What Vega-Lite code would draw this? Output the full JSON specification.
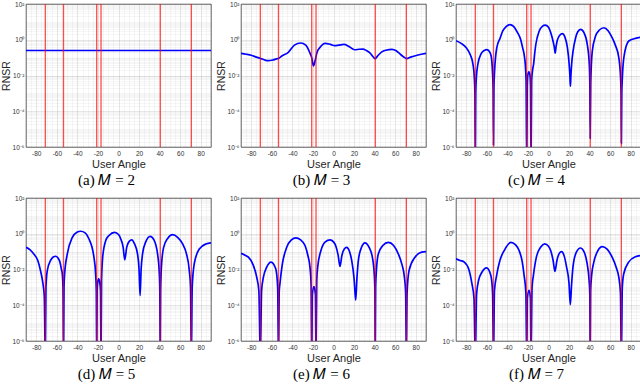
{
"$schema":"https://vega.github.io/schema/vega-lite/v6.json",
"background":"white",
"padding":{"left":1,"top":0,"right":0,"bottom":0},
"datasets":{
"users":[{"a":-71.2},{"a":-53.5},{"a":-21.2},{"a":-17},{"a":40.6},{"a":70.9}],
"curves":[
{"M":2,"a":-90,"r":0.25},{"M":2,"a":90,"r":0.25},
{"M":3,"a":-90,"r":0.174},{"M":3,"a":-85,"r":0.155},{"M":3,"a":-80,"r":0.135},{"M":3,"a":-75,"r":0.107},{"M":3,"a":-71.2,"r":0.091},{"M":3,"a":-67,"r":0.074},{"M":3,"a":-63.7,"r":0.068},{"M":3,"a":-59,"r":0.074},{"M":3,"a":-55.5,"r":0.085},{"M":3,"a":-53.5,"r":0.091},{"M":3,"a":-50,"r":0.126},{"M":3,"a":-44.3,"r":0.19},{"M":3,"a":-38,"r":0.5},{"M":3,"a":-31.9,"r":0.66},{"M":3,"a":-27,"r":0.5},{"M":3,"a":-23.2,"r":0.2},{"M":3,"a":-21.2,"r":0.1},{"M":3,"a":-19.5,"r":0.035},{"M":3,"a":-18,"r":0.063},{"M":3,"a":-16,"r":0.2},{"M":3,"a":-13.4,"r":0.36},{"M":3,"a":-8,"r":0.63},{"M":3,"a":-3,"r":0.55},{"M":3,"a":1.2,"r":0.47},{"M":3,"a":5,"r":0.5},{"M":3,"a":10.2,"r":0.55},{"M":3,"a":15,"r":0.42},{"M":3,"a":20.6,"r":0.275},{"M":3,"a":25,"r":0.295},{"M":3,"a":28.7,"r":0.3},{"M":3,"a":32,"r":0.25},{"M":3,"a":35.2,"r":0.19},{"M":3,"a":38.5,"r":0.112},{"M":3,"a":40.6,"r":0.087},{"M":3,"a":43,"r":0.126},{"M":3,"a":47,"r":0.21},{"M":3,"a":51,"r":0.26},{"M":3,"a":56.9,"r":0.29},{"M":3,"a":61,"r":0.24},{"M":3,"a":64.4,"r":0.166},{"M":3,"a":68,"r":0.112},{"M":3,"a":71.2,"r":0.087},{"M":3,"a":75,"r":0.107},{"M":3,"a":82.2,"r":0.141},{"M":3,"a":90,"r":0.174},
{"M":4,"a":-90,"r":0.89},{"M":4,"a":-85,"r":0.63},{"M":4,"a":-80,"r":0.36},{"M":4,"a":-76,"r":0.14},{"M":4,"a":-73.5,"r":0.043},{"M":4,"a":-72.2,"r":0.0079},{"M":4,"a":-71.6,"r":0.001},{"M":4,"a":-71.2,"r":1e-7},{"M":4,"a":-70.8,"r":0.001},{"M":4,"a":-70.2,"r":0.0079},{"M":4,"a":-68.7,"r":0.043},{"M":4,"a":-65.5,"r":0.166},{"M":4,"a":-62.5,"r":0.25},{"M":4,"a":-60,"r":0.28},{"M":4,"a":-57.5,"r":0.22},{"M":4,"a":-55.8,"r":0.123},{"M":4,"a":-54.5,"r":0.016},{"M":4,"a":-53.9,"r":0.002},{"M":4,"a":-53.5,"r":1.3e-6},{"M":4,"a":-53.1,"r":0.002},{"M":4,"a":-52.5,"r":0.016},{"M":4,"a":-50.3,"r":0.36},{"M":4,"a":-47,"r":1.26},{"M":4,"a":-44.5,"r":3.1},{"M":4,"a":-41,"r":5.6},{"M":4,"a":-37.5,"r":7.1},{"M":4,"a":-34,"r":5.6},{"M":4,"a":-30,"r":2.45},{"M":4,"a":-27,"r":1},{"M":4,"a":-25.2,"r":0.36},{"M":4,"a":-23.5,"r":0.126},{"M":4,"a":-22.6,"r":0.043},{"M":4,"a":-21.8,"r":0.005},{"M":4,"a":-21.2,"r":1e-7},{"M":4,"a":-20.7,"r":0.0025},{"M":4,"a":-20.2,"r":0.01},{"M":4,"a":-19.1,"r":0.016},{"M":4,"a":-18,"r":0.01},{"M":4,"a":-17.5,"r":0.0025},{"M":4,"a":-17,"r":1e-7},{"M":4,"a":-16.4,"r":0.005},{"M":4,"a":-15.5,"r":0.02},{"M":4,"a":-14.5,"r":0.043},{"M":4,"a":-13.3,"r":0.2},{"M":4,"a":-12.3,"r":0.56},{"M":4,"a":-9,"r":3.1},{"M":4,"a":-6,"r":5.6},{"M":4,"a":-3.2,"r":6.5},{"M":4,"a":0,"r":5},{"M":4,"a":2.2,"r":2.45},{"M":4,"a":4.5,"r":0.8},{"M":4,"a":5.6,"r":0.4},{"M":4,"a":6.5,"r":0.18},{"M":4,"a":7.4,"r":0.42},{"M":4,"a":8.5,"r":0.9},{"M":4,"a":11,"r":1.8},{"M":4,"a":13.5,"r":2.2},{"M":4,"a":16,"r":1.4},{"M":4,"a":18.4,"r":0.36},{"M":4,"a":20,"r":0.05},{"M":4,"a":20.8,"r":0.01},{"M":4,"a":21.3,"r":0.0025},{"M":4,"a":21.8,"r":0.01},{"M":4,"a":22.6,"r":0.05},{"M":4,"a":23.9,"r":0.23},{"M":4,"a":26.4,"r":1.3},{"M":4,"a":28.5,"r":2.8},{"M":4,"a":31.3,"r":3.8},{"M":4,"a":34.5,"r":2.5},{"M":4,"a":37.7,"r":0.56},{"M":4,"a":39.7,"r":0.043},{"M":4,"a":40.2,"r":0.004},{"M":4,"a":40.6,"r":3e-6},{"M":4,"a":41.1,"r":0.004},{"M":4,"a":42.6,"r":0.23},{"M":4,"a":45.8,"r":1.6},{"M":4,"a":49.5,"r":3.5},{"M":4,"a":53.9,"r":4.7},{"M":4,"a":58,"r":3.2},{"M":4,"a":61.9,"r":1.3},{"M":4,"a":65,"r":0.5},{"M":4,"a":68.4,"r":0.1},{"M":4,"a":70.2,"r":0.0063},{"M":4,"a":70.6,"r":0.001},{"M":4,"a":70.9,"r":1.6e-6},{"M":4,"a":71.3,"r":0.001},{"M":4,"a":71.8,"r":0.0063},{"M":4,"a":73.3,"r":0.1},{"M":4,"a":78.1,"r":0.85},{"M":4,"a":84.5,"r":1.2},{"M":4,"a":90,"r":1.4},
{"M":5,"a":-90,"r":0.174},{"M":5,"a":-86,"r":0.126},{"M":5,"a":-82.4,"r":0.074},{"M":5,"a":-78.5,"r":0.032},{"M":5,"a":-75.9,"r":0.0087},{"M":5,"a":-73.5,"r":0.0016},{"M":5,"a":-72.2,"r":0.00032},{"M":5,"a":-71.2,"r":1e-7},{"M":5,"a":-70.6,"r":0.001},{"M":5,"a":-69.3,"r":0.0087},{"M":5,"a":-66.1,"r":0.032},{"M":5,"a":-63.5,"r":0.05},{"M":5,"a":-61.2,"r":0.055},{"M":5,"a":-59,"r":0.045},{"M":5,"a":-57,"r":0.026},{"M":5,"a":-55.5,"r":0.01},{"M":5,"a":-54.7,"r":0.0058},{"M":5,"a":-54,"r":0.001},{"M":5,"a":-53.5,"r":1e-7},{"M":5,"a":-53,"r":0.001},{"M":5,"a":-52.4,"r":0.0058},{"M":5,"a":-49.8,"r":0.074},{"M":5,"a":-44.9,"r":0.63},{"M":5,"a":-40.5,"r":1.2},{"M":5,"a":-36.8,"r":1.38},{"M":5,"a":-32.5,"r":1.12},{"M":5,"a":-28.7,"r":0.51},{"M":5,"a":-25.8,"r":0.18},{"M":5,"a":-23.9,"r":0.049},{"M":5,"a":-22.3,"r":0.0063},{"M":5,"a":-21.6,"r":0.00063},{"M":5,"a":-21.2,"r":1e-7},{"M":5,"a":-20.8,"r":0.00063},{"M":5,"a":-20.2,"r":0.002},{"M":5,"a":-19.3,"r":0.003},{"M":5,"a":-18.3,"r":0.002},{"M":5,"a":-17.5,"r":0.00063},{"M":5,"a":-17,"r":1e-7},{"M":5,"a":-16.5,"r":0.0025},{"M":5,"a":-15.4,"r":0.049},{"M":5,"a":-12.4,"r":0.42},{"M":5,"a":-9.2,"r":0.8},{"M":5,"a":-3.7,"r":1.2},{"M":5,"a":0,"r":0.9},{"M":5,"a":2.2,"r":0.51},{"M":5,"a":4.5,"r":0.18},{"M":5,"a":6.1,"r":0.035},{"M":5,"a":8,"r":0.18},{"M":5,"a":10.5,"r":0.38},{"M":5,"a":12.9,"r":0.46},{"M":5,"a":15.5,"r":0.28},{"M":5,"a":18.5,"r":0.074},{"M":5,"a":20,"r":0.01},{"M":5,"a":21,"r":0.00035},{"M":5,"a":22,"r":0.01},{"M":5,"a":23.4,"r":0.074},{"M":5,"a":26.5,"r":0.35},{"M":5,"a":30.8,"r":0.72},{"M":5,"a":34.5,"r":0.45},{"M":5,"a":38,"r":0.074},{"M":5,"a":39.7,"r":0.0063},{"M":5,"a":40.2,"r":0.00063},{"M":5,"a":40.6,"r":1e-7},{"M":5,"a":41,"r":0.00063},{"M":5,"a":41.8,"r":0.016},{"M":5,"a":43.9,"r":0.174},{"M":5,"a":48,"r":0.56},{"M":5,"a":52.6,"r":0.89},{"M":5,"a":57.5,"r":0.63},{"M":5,"a":62.4,"r":0.27},{"M":5,"a":66,"r":0.08},{"M":5,"a":68.9,"r":0.0087},{"M":5,"a":70.1,"r":0.001},{"M":5,"a":70.9,"r":1e-7},{"M":5,"a":71.7,"r":0.001},{"M":5,"a":73.7,"r":0.021},{"M":5,"a":78.6,"r":0.14},{"M":5,"a":85.1,"r":0.27},{"M":5,"a":90,"r":0.31},
{"M":6,"a":-90,"r":0.081},{"M":6,"a":-86,"r":0.063},{"M":6,"a":-82.8,"r":0.049},{"M":6,"a":-78.5,"r":0.02},{"M":6,"a":-74.7,"r":0.0037},{"M":6,"a":-72.6,"r":0.00063},{"M":6,"a":-71.2,"r":1e-7},{"M":6,"a":-70,"r":0.00063},{"M":6,"a":-68.2,"r":0.0037},{"M":6,"a":-65,"r":0.0135},{"M":6,"a":-60.8,"r":0.026},{"M":6,"a":-56.2,"r":0.011},{"M":6,"a":-54.3,"r":0.001},{"M":6,"a":-53.5,"r":1e-7},{"M":6,"a":-52.8,"r":0.00063},{"M":6,"a":-52.1,"r":0.0016},{"M":6,"a":-49.7,"r":0.021},{"M":6,"a":-45.5,"r":0.174},{"M":6,"a":-41,"r":0.45},{"M":6,"a":-36.5,"r":0.59},{"M":6,"a":-32,"r":0.45},{"M":6,"a":-27.7,"r":0.22},{"M":6,"a":-25,"r":0.063},{"M":6,"a":-22.9,"r":0.0135},{"M":6,"a":-21.8,"r":0.0016},{"M":6,"a":-21.2,"r":1e-7},{"M":6,"a":-20.6,"r":0.0004},{"M":6,"a":-19,"r":0.0011},{"M":6,"a":-17.6,"r":0.0004},{"M":6,"a":-17,"r":1e-7},{"M":6,"a":-16.3,"r":0.0025},{"M":6,"a":-15.4,"r":0.0135},{"M":6,"a":-12.2,"r":0.115},{"M":6,"a":-8,"r":0.35},{"M":6,"a":-3.4,"r":0.46},{"M":6,"a":0,"r":0.35},{"M":6,"a":2.1,"r":0.22},{"M":6,"a":4.5,"r":0.063},{"M":6,"a":6.3,"r":0.0148},{"M":6,"a":8.2,"r":0.063},{"M":6,"a":10.5,"r":0.14},{"M":6,"a":12.8,"r":0.174},{"M":6,"a":15.3,"r":0.112},{"M":6,"a":17.7,"r":0.032},{"M":6,"a":20,"r":0.0032},{"M":6,"a":21.6,"r":0.00019},{"M":6,"a":22.8,"r":0.0032},{"M":6,"a":24.2,"r":0.032},{"M":6,"a":27,"r":0.16},{"M":6,"a":30.6,"r":0.31},{"M":6,"a":34.5,"r":0.18},{"M":6,"a":37.8,"r":0.049},{"M":6,"a":39.7,"r":0.005},{"M":6,"a":40.3,"r":0.00063},{"M":6,"a":40.6,"r":1e-7},{"M":6,"a":41,"r":0.001},{"M":6,"a":41.8,"r":0.01},{"M":6,"a":43.6,"r":0.074},{"M":6,"a":48,"r":0.22},{"M":6,"a":53.4,"r":0.33},{"M":6,"a":58.5,"r":0.22},{"M":6,"a":63.1,"r":0.074},{"M":6,"a":66.5,"r":0.02},{"M":6,"a":69,"r":0.0037},{"M":6,"a":70.2,"r":0.0005},{"M":6,"a":70.9,"r":1e-7},{"M":6,"a":71.6,"r":0.0005},{"M":6,"a":73.5,"r":0.0087},{"M":6,"a":79.3,"r":0.049},{"M":6,"a":85.8,"r":0.093},{"M":6,"a":90,"r":0.1},
{"M":7,"a":-90,"r":0.04},{"M":7,"a":-86,"r":0.032},{"M":7,"a":-81.9,"r":0.026},{"M":7,"a":-77.5,"r":0.01},{"M":7,"a":-74.5,"r":0.0016},{"M":7,"a":-72.5,"r":0.00025},{"M":7,"a":-71.2,"r":1e-7},{"M":7,"a":-70,"r":0.0004},{"M":7,"a":-68,"r":0.0025},{"M":7,"a":-64.8,"r":0.007},{"M":7,"a":-60.2,"r":0.0123},{"M":7,"a":-56.1,"r":0.0046},{"M":7,"a":-54.4,"r":0.0005},{"M":7,"a":-53.5,"r":1e-7},{"M":7,"a":-52.6,"r":0.00063},{"M":7,"a":-50.5,"r":0.0046},{"M":7,"a":-47.3,"r":0.032},{"M":7,"a":-43.1,"r":0.115},{"M":7,"a":-36.7,"r":0.33},{"M":7,"a":-32,"r":0.24},{"M":7,"a":-28.6,"r":0.115},{"M":7,"a":-25.8,"r":0.032},{"M":7,"a":-23.7,"r":0.0046},{"M":7,"a":-22,"r":0.0005},{"M":7,"a":-21.2,"r":1e-7},{"M":7,"a":-20.6,"r":0.00025},{"M":7,"a":-18.9,"r":0.00068},{"M":7,"a":-17.6,"r":0.00025},{"M":7,"a":-17,"r":1e-7},{"M":7,"a":-16,"r":0.001},{"M":7,"a":-14.7,"r":0.0046},{"M":7,"a":-11.8,"r":0.049},{"M":7,"a":-7.5,"r":0.18},{"M":7,"a":-3.7,"r":0.27},{"M":7,"a":0,"r":0.2},{"M":7,"a":2.1,"r":0.115},{"M":7,"a":4.5,"r":0.032},{"M":7,"a":6.3,"r":0.0078},{"M":7,"a":8.2,"r":0.032},{"M":7,"a":10.5,"r":0.08},{"M":7,"a":12.7,"r":0.1},{"M":7,"a":15.3,"r":0.056},{"M":7,"a":17.6,"r":0.0135},{"M":7,"a":20,"r":0.0016},{"M":7,"a":21.2,"r":0.000107},{"M":7,"a":22.5,"r":0.0016},{"M":7,"a":23.8,"r":0.0135},{"M":7,"a":27,"r":0.09},{"M":7,"a":31.1,"r":0.16},{"M":7,"a":34.5,"r":0.1},{"M":7,"a":37.6,"r":0.021},{"M":7,"a":39.5,"r":0.0025},{"M":7,"a":40.2,"r":0.0004},{"M":7,"a":40.6,"r":1e-7},{"M":7,"a":41,"r":0.00063},{"M":7,"a":42,"r":0.005},{"M":7,"a":44.1,"r":0.026},{"M":7,"a":48,"r":0.112},{"M":7,"a":52.2,"r":0.19},{"M":7,"a":57,"r":0.14},{"M":7,"a":61.9,"r":0.049},{"M":7,"a":66,"r":0.0126},{"M":7,"a":68.4,"r":0.0037},{"M":7,"a":70,"r":0.0005},{"M":7,"a":70.9,"r":1e-7},{"M":7,"a":71.8,"r":0.001},{"M":7,"a":73.2,"r":0.0058},{"M":7,"a":78,"r":0.026},{"M":7,"a":84.5,"r":0.052},{"M":7,"a":90,"r":0.06}
]},
"vconcat":[
{"hconcat":[
{"width":185,"height":143,"title":{"text":"(a) 𝑀 = 2"},
 "encoding":{"x":{"field":"a","type":"quantitative","scale":{"domain":[-90,90],"nice":false},"title":"User Angle","axis":{"values":[-90,-85,-80,-75,-70,-65,-60,-55,-50,-45,-40,-35,-30,-25,-20,-15,-10,-5,0,5,10,15,20,25,30,35,40,45,50,55,60,65,70,75,80,85,90],"labelExpr":"datum.value % 20 == 0 && abs(datum.value) < 90 ? '' + datum.value : ''","labelOverlap":false,"labelFlush":false,"gridOpacity":{"condition":{"test":"datum.value % 20 == 0","value":0.11},"value":0.04}}}},
 "layer":[
  {"data":{"name":"curves"},"transform":[{"filter":"datum.M == 2"}],"mark":{"type":"line","color":"#0000ff","strokeWidth":1.7,"clip":true,"interpolate":"monotone"},
   "encoding":{"y":{"field":"r","type":"quantitative","scale":{"type":"log","domain":[0.000001,100],"nice":false},"title":"RNSR","axis":{"values":[0.000001,0.000002,0.000003,0.000004,0.000005,0.000006,0.000007,0.000008,0.000009,0.00001,0.00002,0.00003,0.00004,0.00005,0.00006,0.00007,0.00008,0.00009,0.0001,0.0002,0.0003,0.0004,0.0005,0.0006,0.0007,0.0008,0.0009,0.001,0.002,0.003,0.004,0.005,0.006,0.007,0.008,0.009,0.01,0.02,0.03,0.04,0.05,0.06,0.07,0.08,0.09,0.1,0.2,0.3,0.4,0.5,0.6,0.7,0.8,0.9,1,2,3,4,5,6,7,8,9,10,20,30,40,50,60,70,80,90,100],"labelExpr":"datum.value == 100 ? '10²' : datum.value == 1 ? '10⁰' : datum.value == 0.01 ? '10⁻²' : datum.value == 0.0001 ? '10⁻⁴' : datum.value == 0.000001 ? '10⁻⁶' : ''","labelOverlap":false,"labelFlush":false,"gridOpacity":{"condition":{"test":"datum.value == 100 || datum.value == 1 || datum.value == 0.01 || datum.value == 0.0001 || datum.value == 0.000001","value":0.11},"value":0.04}}}}},
  {"data":{"name":"users"},"mark":{"type":"rule","color":"#ff0000","opacity":0.7,"strokeWidth":1.3},"encoding":{}}
 ]},
{"width":185,"height":143,"title":{"text":"(b) 𝑀 = 3"},
 "encoding":{"x":{"field":"a","type":"quantitative","scale":{"domain":[-90,90],"nice":false},"title":"User Angle","axis":{"values":[-90,-85,-80,-75,-70,-65,-60,-55,-50,-45,-40,-35,-30,-25,-20,-15,-10,-5,0,5,10,15,20,25,30,35,40,45,50,55,60,65,70,75,80,85,90],"labelExpr":"datum.value % 20 == 0 && abs(datum.value) < 90 ? '' + datum.value : ''","labelOverlap":false,"labelFlush":false,"gridOpacity":{"condition":{"test":"datum.value % 20 == 0","value":0.11},"value":0.04}}}},
 "layer":[
  {"data":{"name":"curves"},"transform":[{"filter":"datum.M == 3"}],"mark":{"type":"line","color":"#0000ff","strokeWidth":1.7,"clip":true,"interpolate":"monotone"},
   "encoding":{"y":{"field":"r","type":"quantitative","scale":{"type":"log","domain":[0.000001,100],"nice":false},"title":"RNSR","axis":{"values":[0.000001,0.000002,0.000003,0.000004,0.000005,0.000006,0.000007,0.000008,0.000009,0.00001,0.00002,0.00003,0.00004,0.00005,0.00006,0.00007,0.00008,0.00009,0.0001,0.0002,0.0003,0.0004,0.0005,0.0006,0.0007,0.0008,0.0009,0.001,0.002,0.003,0.004,0.005,0.006,0.007,0.008,0.009,0.01,0.02,0.03,0.04,0.05,0.06,0.07,0.08,0.09,0.1,0.2,0.3,0.4,0.5,0.6,0.7,0.8,0.9,1,2,3,4,5,6,7,8,9,10,20,30,40,50,60,70,80,90,100],"labelExpr":"datum.value == 100 ? '10²' : datum.value == 1 ? '10⁰' : datum.value == 0.01 ? '10⁻²' : datum.value == 0.0001 ? '10⁻⁴' : datum.value == 0.000001 ? '10⁻⁶' : ''","labelOverlap":false,"labelFlush":false,"gridOpacity":{"condition":{"test":"datum.value == 100 || datum.value == 1 || datum.value == 0.01 || datum.value == 0.0001 || datum.value == 0.000001","value":0.11},"value":0.04}}}}},
  {"data":{"name":"users"},"mark":{"type":"rule","color":"#ff0000","opacity":0.7,"strokeWidth":1.3},"encoding":{}}
 ]},
{"width":185,"height":143,"title":{"text":"(c) 𝑀 = 4"},
 "encoding":{"x":{"field":"a","type":"quantitative","scale":{"domain":[-90,90],"nice":false},"title":"User Angle","axis":{"values":[-90,-85,-80,-75,-70,-65,-60,-55,-50,-45,-40,-35,-30,-25,-20,-15,-10,-5,0,5,10,15,20,25,30,35,40,45,50,55,60,65,70,75,80,85,90],"labelExpr":"datum.value % 20 == 0 && abs(datum.value) < 90 ? '' + datum.value : ''","labelOverlap":false,"labelFlush":false,"gridOpacity":{"condition":{"test":"datum.value % 20 == 0","value":0.11},"value":0.04}}}},
 "layer":[
  {"data":{"name":"curves"},"transform":[{"filter":"datum.M == 4"}],"mark":{"type":"line","color":"#0000ff","strokeWidth":1.7,"clip":true,"interpolate":"monotone"},
   "encoding":{"y":{"field":"r","type":"quantitative","scale":{"type":"log","domain":[0.000001,100],"nice":false},"title":"RNSR","axis":{"values":[0.000001,0.000002,0.000003,0.000004,0.000005,0.000006,0.000007,0.000008,0.000009,0.00001,0.00002,0.00003,0.00004,0.00005,0.00006,0.00007,0.00008,0.00009,0.0001,0.0002,0.0003,0.0004,0.0005,0.0006,0.0007,0.0008,0.0009,0.001,0.002,0.003,0.004,0.005,0.006,0.007,0.008,0.009,0.01,0.02,0.03,0.04,0.05,0.06,0.07,0.08,0.09,0.1,0.2,0.3,0.4,0.5,0.6,0.7,0.8,0.9,1,2,3,4,5,6,7,8,9,10,20,30,40,50,60,70,80,90,100],"labelExpr":"datum.value == 100 ? '10²' : datum.value == 1 ? '10⁰' : datum.value == 0.01 ? '10⁻²' : datum.value == 0.0001 ? '10⁻⁴' : datum.value == 0.000001 ? '10⁻⁶' : ''","labelOverlap":false,"labelFlush":false,"gridOpacity":{"condition":{"test":"datum.value == 100 || datum.value == 1 || datum.value == 0.01 || datum.value == 0.0001 || datum.value == 0.000001","value":0.11},"value":0.04}}}}},
  {"data":{"name":"users"},"mark":{"type":"rule","color":"#ff0000","opacity":0.7,"strokeWidth":1.3},"encoding":{}}
 ]}
],"spacing":4},
{"hconcat":[
{"width":185,"height":143,"title":{"text":"(d) 𝑀 = 5"},
 "encoding":{"x":{"field":"a","type":"quantitative","scale":{"domain":[-90,90],"nice":false},"title":"User Angle","axis":{"values":[-90,-85,-80,-75,-70,-65,-60,-55,-50,-45,-40,-35,-30,-25,-20,-15,-10,-5,0,5,10,15,20,25,30,35,40,45,50,55,60,65,70,75,80,85,90],"labelExpr":"datum.value % 20 == 0 && abs(datum.value) < 90 ? '' + datum.value : ''","labelOverlap":false,"labelFlush":false,"gridOpacity":{"condition":{"test":"datum.value % 20 == 0","value":0.11},"value":0.04}}}},
 "layer":[
  {"data":{"name":"curves"},"transform":[{"filter":"datum.M == 5"}],"mark":{"type":"line","color":"#0000ff","strokeWidth":1.7,"clip":true,"interpolate":"monotone"},
   "encoding":{"y":{"field":"r","type":"quantitative","scale":{"type":"log","domain":[0.000001,100],"nice":false},"title":"RNSR","axis":{"values":[0.000001,0.000002,0.000003,0.000004,0.000005,0.000006,0.000007,0.000008,0.000009,0.00001,0.00002,0.00003,0.00004,0.00005,0.00006,0.00007,0.00008,0.00009,0.0001,0.0002,0.0003,0.0004,0.0005,0.0006,0.0007,0.0008,0.0009,0.001,0.002,0.003,0.004,0.005,0.006,0.007,0.008,0.009,0.01,0.02,0.03,0.04,0.05,0.06,0.07,0.08,0.09,0.1,0.2,0.3,0.4,0.5,0.6,0.7,0.8,0.9,1,2,3,4,5,6,7,8,9,10,20,30,40,50,60,70,80,90,100],"labelExpr":"datum.value == 100 ? '10²' : datum.value == 1 ? '10⁰' : datum.value == 0.01 ? '10⁻²' : datum.value == 0.0001 ? '10⁻⁴' : datum.value == 0.000001 ? '10⁻⁶' : ''","labelOverlap":false,"labelFlush":false,"gridOpacity":{"condition":{"test":"datum.value == 100 || datum.value == 1 || datum.value == 0.01 || datum.value == 0.0001 || datum.value == 0.000001","value":0.11},"value":0.04}}}}},
  {"data":{"name":"users"},"mark":{"type":"rule","color":"#ff0000","opacity":0.7,"strokeWidth":1.3},"encoding":{}}
 ]},
{"width":185,"height":143,"title":{"text":"(e) 𝑀 = 6"},
 "encoding":{"x":{"field":"a","type":"quantitative","scale":{"domain":[-90,90],"nice":false},"title":"User Angle","axis":{"values":[-90,-85,-80,-75,-70,-65,-60,-55,-50,-45,-40,-35,-30,-25,-20,-15,-10,-5,0,5,10,15,20,25,30,35,40,45,50,55,60,65,70,75,80,85,90],"labelExpr":"datum.value % 20 == 0 && abs(datum.value) < 90 ? '' + datum.value : ''","labelOverlap":false,"labelFlush":false,"gridOpacity":{"condition":{"test":"datum.value % 20 == 0","value":0.11},"value":0.04}}}},
 "layer":[
  {"data":{"name":"curves"},"transform":[{"filter":"datum.M == 6"}],"mark":{"type":"line","color":"#0000ff","strokeWidth":1.7,"clip":true,"interpolate":"monotone"},
   "encoding":{"y":{"field":"r","type":"quantitative","scale":{"type":"log","domain":[0.000001,100],"nice":false},"title":"RNSR","axis":{"values":[0.000001,0.000002,0.000003,0.000004,0.000005,0.000006,0.000007,0.000008,0.000009,0.00001,0.00002,0.00003,0.00004,0.00005,0.00006,0.00007,0.00008,0.00009,0.0001,0.0002,0.0003,0.0004,0.0005,0.0006,0.0007,0.0008,0.0009,0.001,0.002,0.003,0.004,0.005,0.006,0.007,0.008,0.009,0.01,0.02,0.03,0.04,0.05,0.06,0.07,0.08,0.09,0.1,0.2,0.3,0.4,0.5,0.6,0.7,0.8,0.9,1,2,3,4,5,6,7,8,9,10,20,30,40,50,60,70,80,90,100],"labelExpr":"datum.value == 100 ? '10²' : datum.value == 1 ? '10⁰' : datum.value == 0.01 ? '10⁻²' : datum.value == 0.0001 ? '10⁻⁴' : datum.value == 0.000001 ? '10⁻⁶' : ''","labelOverlap":false,"labelFlush":false,"gridOpacity":{"condition":{"test":"datum.value == 100 || datum.value == 1 || datum.value == 0.01 || datum.value == 0.0001 || datum.value == 0.000001","value":0.11},"value":0.04}}}}},
  {"data":{"name":"users"},"mark":{"type":"rule","color":"#ff0000","opacity":0.7,"strokeWidth":1.3},"encoding":{}}
 ]},
{"width":185,"height":143,"title":{"text":"(f) 𝑀 = 7"},
 "encoding":{"x":{"field":"a","type":"quantitative","scale":{"domain":[-90,90],"nice":false},"title":"User Angle","axis":{"values":[-90,-85,-80,-75,-70,-65,-60,-55,-50,-45,-40,-35,-30,-25,-20,-15,-10,-5,0,5,10,15,20,25,30,35,40,45,50,55,60,65,70,75,80,85,90],"labelExpr":"datum.value % 20 == 0 && abs(datum.value) < 90 ? '' + datum.value : ''","labelOverlap":false,"labelFlush":false,"gridOpacity":{"condition":{"test":"datum.value % 20 == 0","value":0.11},"value":0.04}}}},
 "layer":[
  {"data":{"name":"curves"},"transform":[{"filter":"datum.M == 7"}],"mark":{"type":"line","color":"#0000ff","strokeWidth":1.7,"clip":true,"interpolate":"monotone"},
   "encoding":{"y":{"field":"r","type":"quantitative","scale":{"type":"log","domain":[0.000001,100],"nice":false},"title":"RNSR","axis":{"values":[0.000001,0.000002,0.000003,0.000004,0.000005,0.000006,0.000007,0.000008,0.000009,0.00001,0.00002,0.00003,0.00004,0.00005,0.00006,0.00007,0.00008,0.00009,0.0001,0.0002,0.0003,0.0004,0.0005,0.0006,0.0007,0.0008,0.0009,0.001,0.002,0.003,0.004,0.005,0.006,0.007,0.008,0.009,0.01,0.02,0.03,0.04,0.05,0.06,0.07,0.08,0.09,0.1,0.2,0.3,0.4,0.5,0.6,0.7,0.8,0.9,1,2,3,4,5,6,7,8,9,10,20,30,40,50,60,70,80,90,100],"labelExpr":"datum.value == 100 ? '10²' : datum.value == 1 ? '10⁰' : datum.value == 0.01 ? '10⁻²' : datum.value == 0.0001 ? '10⁻⁴' : datum.value == 0.000001 ? '10⁻⁶' : ''","labelOverlap":false,"labelFlush":false,"gridOpacity":{"condition":{"test":"datum.value == 100 || datum.value == 1 || datum.value == 0.01 || datum.value == 0.0001 || datum.value == 0.000001","value":0.11},"value":0.04}}}}},
  {"data":{"name":"users"},"mark":{"type":"rule","color":"#ff0000","opacity":0.7,"strokeWidth":1.3},"encoding":{}}
 ]}
],"spacing":4}
],
"spacing":6,
"config":{
 "font":"Liberation Sans",
 "view":{"stroke":"#262626","strokeWidth":0.7},
 "axis":{"labelFont":"Liberation Sans","labelFontSize":6.5,"labelColor":"#333333","titleFont":"Liberation Sans","titleFontSize":11,"titleFontWeight":"normal","titleColor":"#262626","gridColor":"#262626","ticks":false,"domain":false,"labelPadding":2},
 "axisY":{"titlePadding":0,"titleFontSize":10.5},
 "axisX":{"titlePadding":2,"labelPadding":3},
 "title":{"font":"Liberation Serif","fontSize":15,"fontWeight":"normal","orient":"bottom","offset":3,"color":"#000000","frame":"bounds","anchor":"middle"}
}
}
